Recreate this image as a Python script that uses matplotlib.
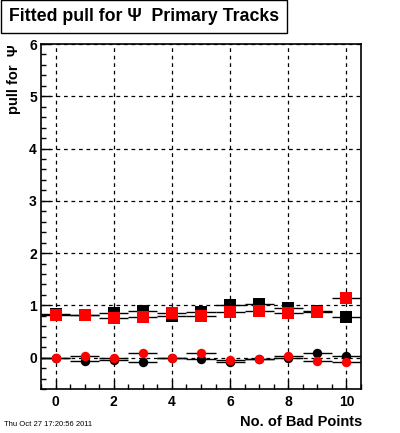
import matplotlib
matplotlib.use("Agg")
import matplotlib.pyplot as plt
from matplotlib.ticker import MultipleLocator
import numpy as np

plt.rcParams['font.family'] = ['Liberation Sans', 'DejaVu Sans']

bad_points = [0, 1, 2, 3, 4, 5, 6, 7, 8, 9, 10]
sigma_black = [0.83, 0.82, 0.86, 0.89, 0.80, 0.87, 1.00, 1.02, 0.95, 0.90, 0.78]
sigma_red = [0.81, 0.81, 0.76, 0.78, 0.85, 0.79, 0.88, 0.90, 0.85, 0.88, 1.15]
mean_black = [-0.01, -0.06, -0.05, -0.08, 0.00, -0.03, -0.09, -0.02, -0.01, 0.08, 0.04]
mean_red = [0.00, 0.03, 0.00, 0.08, 0.00, 0.09, -0.045, -0.02, 0.03, -0.07, -0.08]
sigma_black_err = [0.02, 0.02, 0.02, 0.03, 0.03, 0.03, 0.04, 0.05, 0.03, 0.02, 0.02]
sigma_red_err = [0.02, 0.02, 0.02, 0.02, 0.03, 0.03, 0.03, 0.03, 0.03, 0.02, 0.03]
mean_black_err = [0.02, 0.02, 0.02, 0.03, 0.02, 0.03, 0.03, 0.03, 0.02, 0.02, 0.02]
mean_red_err = [0.02, 0.02, 0.02, 0.02, 0.02, 0.03, 0.03, 0.03, 0.02, 0.02, 0.02]

fig = plt.figure(figsize=(4.0, 4.33), dpi=100)
ax = fig.add_axes([0.1025, 0.1016, 0.8, 0.7967])
ax.set_xlim(-0.5, 10.5)
ax.set_ylim(-0.6, 6.0)

x = np.array(bad_points)
xe = 0.5
ax.errorbar(x, sigma_black, xerr=xe, yerr=sigma_black_err, fmt='s', color='black',
            ms=8, mew=0, elinewidth=1, capsize=0, zorder=3)
ax.errorbar(x, mean_black, xerr=xe, yerr=mean_black_err, fmt='o', color='black',
            ms=6.8, mew=0, elinewidth=1, capsize=0, zorder=3)
ax.errorbar(x, sigma_red, xerr=xe, yerr=sigma_red_err, fmt='s', color='red', ecolor='black',
            ms=8, mew=0, elinewidth=1, capsize=0, zorder=4)
ax.errorbar(x, mean_red, xerr=xe, yerr=mean_red_err, fmt='o', color='red', ecolor='black',
            ms=6.8, mew=0, elinewidth=1, capsize=0, zorder=4)

ax.xaxis.set_major_locator(MultipleLocator(2))
ax.xaxis.set_minor_locator(MultipleLocator(0.5))
ax.yaxis.set_major_locator(MultipleLocator(1))
ax.yaxis.set_minor_locator(MultipleLocator(0.2))
ax.tick_params(which='both', direction='in', top=False, right=False, width=1)
ax.tick_params(which='major', length=6.5, labelsize=10)
ax.tick_params(which='minor', length=3.3)
ax.tick_params(axis='x', pad=4)
ax.tick_params(axis='y', pad=3)
for lab in ax.get_xticklabels() + ax.get_yticklabels():
    lab.set_fontweight('bold')
ax.grid(True, which='major', linestyle=(0, (3, 3)), color='black', linewidth=0.9)
for s in ax.spines.values():
    s.set_linewidth(1.2)

fig.text(0.905, 0.01, 'No. of Bad Points', ha='right', va='bottom', fontsize=10.5, fontweight='bold')
fig.text(0.035, 0.897, 'pull for  Ψ', rotation=90, ha='center', va='top', fontsize=10.5, fontweight='bold')
fig.text(0.01, 0.012, 'Thu Oct 27 17:20:56 2011', ha='left', va='bottom', fontsize=5.5)

fig.text(0.361, 0.961, 'Fitted pull for Ψ  Primary Tracks', ha='center', va='center', fontsize=12.8,
         fontweight='bold',
         bbox=dict(boxstyle='square,pad=0.45', fc='white', ec='black', lw=1))

fig.savefig('out.png', dpi=100)
